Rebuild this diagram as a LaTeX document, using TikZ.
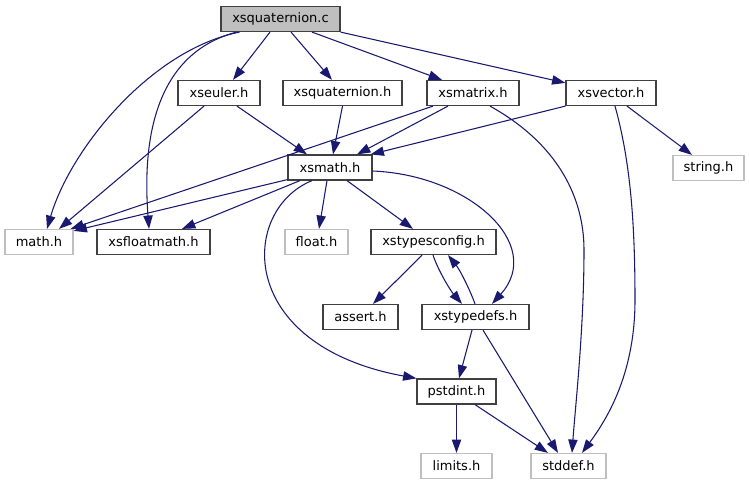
\documentclass[tikz,border=0pt]{standalone}
\usepackage{fontspec}
\setmainfont{DejaVu Sans}
\usetikzlibrary{arrows.meta,calc}
\definecolor{edgecol}{HTML}{191970}
\definecolor{boxborder}{HTML}{404040}
\definecolor{sysborder}{HTML}{BFBFBF}
\definecolor{rootfill}{HTML}{BFBFBF}
\begin{document}
\begin{tikzpicture}[x=0.75pt,y=-0.75pt,
  box/.style={draw=boxborder, line width=0.9pt, rectangle, inner sep=0pt,
    minimum height=18.75pt, font=\fontsize{9.75}{11}\selectfont, fill=white},
  sysbox/.style={box, draw=sysborder},
  rootbox/.style={box, fill=rootfill},
  bw/.style={minimum width=#1*0.75pt},
  edge/.style={draw=edgecol, line width=0.8pt, -{Triangle[length=10pt,width=7pt]}}]
\useasboundingbox (0,0) rectangle (749,485);
% nodes
\node[rootbox,bw=119] (c) at (280.5,19) {xsquaternion.c};
\node[box,bw=82] (euler) at (219,93) {xseuler.h};
\node[box,bw=119] (quath) at (342.5,93) {xsquaternion.h};
\node[box,bw=92] (matrix) at (473,93) {xsmatrix.h};
\node[box,bw=90] (vector) at (611,93) {xsvector.h};
\node[box,bw=84] (xsmath) at (330,167.5) {xsmath.h};
\node[sysbox,bw=71] (string) at (708.5,168) {string.h};
\node[sysbox,bw=68] (math) at (39,242) {math.h};
\node[box,bw=113] (floatmath) at (153.5,242) {xsfloatmath.h};
\node[sysbox,bw=63] (float) at (316.5,242) {float.h};
\node[box,bw=125] (typesconfig) at (433.5,242) {xstypesconfig.h};
\node[box,bw=75] (assert) at (360.5,317) {assert.h};
\node[box,bw=107] (typedefs) at (475.5,317) {xstypedefs.h};
\node[box,bw=79] (pstdint) at (456.5,391.5) {pstdint.h};
\node[sysbox,bw=71] (limits) at (456.5,466) {limits.h};
\node[sysbox,bw=75] (stddef) at (568.5,466) {stddef.h};
% edges from xsquaternion.c
\draw[edge] ($(c.south)+(-10.5,0)$) -- ($(euler.north)+(14,0)$);
\draw[edge] ($(c.south)+(10.5,0)$) -- ($(quath.north)+(-10.5,0)$);
\draw[edge] ($(c.south)+(31.5,0)$) -- ($(matrix.north)+(-31,0)$);
\draw[edge] (c.south east) -- ($(vector.north west)+(0,3)$);
\draw[edge] ($(c.south)+(-41,0)$) .. controls (150,50) and (70,150) .. ($(math.north)+(8,0)$);
\draw[edge] ($(c.south)+(-44,0)$) .. controls (150,55) and (143,150) .. ($(floatmath.north)+(-4.5,0)$);
% xseuler.h
\draw[edge] ($(euler.south)+(18,0)$) -- ($(xsmath.north)+(-23,0)$);
\draw[edge] ($(euler.south)+(-15,0)$) -- ($(math.north)+(20,0)$);
% xsquaternion.h
\draw[edge] ($(quath.south)+(0,0)$) -- ($(xsmath.north)+(3,0)$);
% xsmatrix.h
\draw[edge] ($(matrix.south)+(-25,0)$) -- ($(xsmath.north)+(27,0)$);
\draw[edge] ($(matrix.south)+(-40,0)$) -- ($(math.north east)+(-3,0)$);
\draw[edge] ($(matrix.south)+(17,0)$) .. controls (560,145) and (584,200) .. (584,250)
  .. controls (584,330) and (575,410) .. ($(stddef.north)+(3.5,0)$);
% xsvector.h
\draw[edge] (vector.south west) -- ($(xsmath.north east)+(-2,0)$);
\draw[edge] ($(vector.south)+(16,0)$) -- ($(string.north)+(-16.5,0)$);
\draw[edge] ($(vector.south)+(4,0)$) .. controls (630,160) and (635,220) .. (635,300)
  .. controls (635,370) and (610,415) .. ($(stddef.north)+(13.5,0)$);
% xsmath.h
\draw[edge] ($(xsmath.south west)+(0,-1)$) -- ($(math.north east)+(0,2)$);
\draw[edge] ($(xsmath.south)+(-30,0)$) -- ($(floatmath.north)+(28.5,0)$);
\draw[edge] ($(xsmath.south)+(-3,0)$) -- ($(float.north)+(2.5,0)$);
\draw[edge] ($(xsmath.south)+(17,0)$) -- ($(typesconfig.north)+(-20.5,0)$);
\draw[edge] ($(xsmath.east)+(0,3.5)$) .. controls (470,175) and (545,245) .. ($(typedefs.north)+(16.5,0)$);
\draw[edge] ($(xsmath.south)+(-18,0)$) .. controls (240,210) and (235,345) .. (pstdint.north west);
% xstypesconfig.h
\draw[edge] ($(typesconfig.south)+(-11.5,0)$) -- ($(assert.north)+(12.5,0)$);
\draw[edge] ($(typesconfig.south)+(-0.5,0)$) .. controls (438,270) and (450,290) .. ($(typedefs.north)+(-13.5,0)$);
% xstypedefs.h
\draw[edge] ($(typedefs.north)+(-0.5,0)$) .. controls (470,290) and (460,270) .. ($(typesconfig.south)+(14.5,0)$);
\draw[edge] ($(typedefs.south)+(-3.5,0)$) -- ($(pstdint.north)+(2.5,0)$);
\draw[edge] ($(typedefs.south)+(7.5,0)$) -- ($(stddef.north)+(-10.5,0)$);
% pstdint.h
\draw[edge] (pstdint.south) -- (limits.north);
\draw[edge] ($(pstdint.south)+(18.5,0)$) -- ($(stddef.north)+(-20.5,0)$);
\end{tikzpicture}
\end{document}
